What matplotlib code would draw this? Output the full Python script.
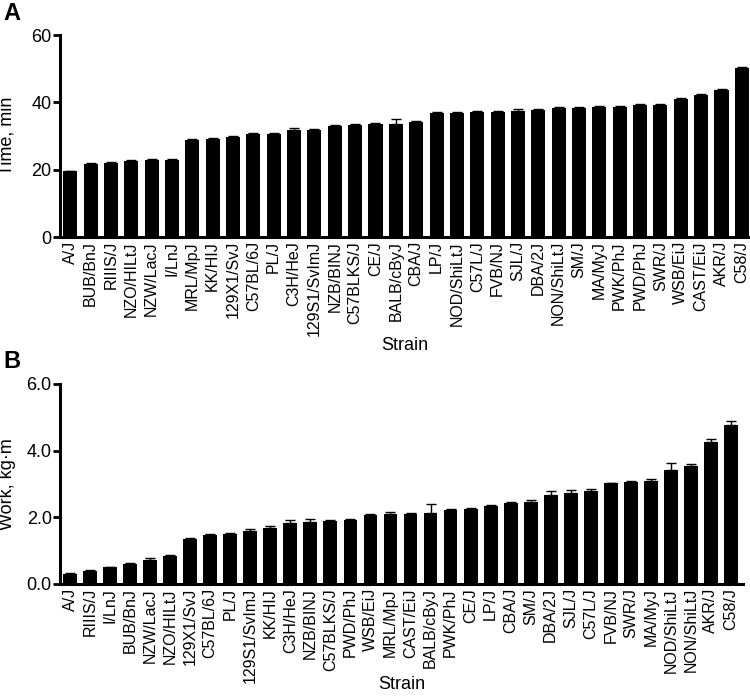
import matplotlib
matplotlib.use("Agg")
import matplotlib.pyplot as plt
import numpy as np

plt.rcParams['font.family'] = ['Liberation Sans', 'DejaVu Sans']

# Panel A: time to exhaustion
strains_a = ["A/J", "BUB/BnJ", "RIIIS/J", "NZO/HILtJ", "NZW/LacJ", "I/LnJ", "MRL/MpJ",
             "KK/HIJ", "129X1/SvJ", "C57BL/6J", "PL/J", "C3H/HeJ", "129S1/SvImJ",
             "NZB/BINJ", "C57BLKS/J", "CE/J", "BALB/cByJ", "CBA/J", "LP/J", "NOD/ShiLtJ",
             "C57L/J", "FVB/NJ", "SJL/J", "DBA/2J", "NON/ShiLtJ", "SM/J", "MA/MyJ",
             "PWK/PhJ", "PWD/PhJ", "SWR/J", "WSB/EiJ", "CAST/EiJ", "AKR/J", "C58/J"]
time_min = [19.5, 21.6, 22.0, 22.7, 22.9, 22.9, 28.9, 29.1, 29.7, 30.5, 30.6, 31.7, 31.9,
            33.0, 33.2, 33.5, 33.5, 34.2, 36.7, 36.8, 37.0, 37.2, 37.5, 37.7, 38.3, 38.4,
            38.5, 38.5, 39.2, 39.3, 41.1, 42.1, 43.6, 50.2]
time_err = [0.2, 0.3, 0.2, 0.2, 0.2, 0.2, 0.3, 0.3, 0.3, 0.3, 0.3, 0.7, 0.3,
            0.3, 0.3, 0.3, 1.6, 0.3, 0.3, 0.3, 0.3, 0.3, 0.6, 0.4, 0.3, 0.3,
            0.3, 0.3, 0.3, 0.3, 0.3, 0.3, 0.4, 0.3]

# Panel B: work
strains_b = ["A/J", "RIIIS/J", "I/LnJ", "BUB/BnJ", "NZW/LacJ", "NZO/HILtJ", "129X1/SvJ",
             "C57BL/6J", "PL/J", "129S1/SvImJ", "KK/HIJ", "C3H/HeJ", "NZB/BINJ",
             "C57BLKS/J", "PWD/PhJ", "WSB/EiJ", "MRL/MpJ", "CAST/EiJ", "BALB/cByJ",
             "PWK/PhJ", "CE/J", "LP/J", "CBA/J", "SM/J", "DBA/2J", "SJL/J", "C57L/J",
             "FVB/NJ", "SWR/J", "MA/MyJ", "NOD/ShiLtJ", "NON/ShiLtJ", "AKR/J", "C58/J"]
work_kgm = [0.30, 0.40, 0.50, 0.60, 0.73, 0.85, 1.35, 1.47, 1.49, 1.59, 1.69, 1.82, 1.86,
            1.90, 1.93, 2.08, 2.10, 2.11, 2.13, 2.23, 2.25, 2.34, 2.43, 2.45, 2.66, 2.73,
            2.80, 3.02, 3.05, 3.09, 3.43, 3.54, 4.27, 4.77]
work_err = [0.02, 0.02, 0.02, 0.02, 0.04, 0.02, 0.02, 0.03, 0.04, 0.05, 0.06, 0.10, 0.08,
            0.02, 0.02, 0.02, 0.05, 0.02, 0.28, 0.02, 0.03, 0.03, 0.03, 0.08, 0.12, 0.10,
            0.06, 0.02, 0.03, 0.06, 0.19, 0.05, 0.07, 0.12]

W, H = 750, 698
fig = plt.figure(figsize=(W / 100, H / 100), dpi=100)


def panel(rect, names, vals, errs, ylim, yticks, yfmt, ylabel, letter, xmax, xlab_y, letter_y):
    ax = fig.add_axes(rect)
    x = np.arange(len(names))
    ax.bar(x, vals, width=0.69, color='black', edgecolor='none', zorder=2)
    ax.errorbar(x, vals, yerr=[np.zeros(len(errs)), errs], fmt='none', ecolor='black',
                elinewidth=1, capsize=3.5, capthick=1, zorder=1)
    ax.set_xlim(-0.5, xmax)
    ax.set_ylim(*ylim)
    ax.set_yticks(yticks)
    ax.set_yticklabels([yfmt.format(v) for v in yticks], fontsize=13)
    ax.set_xticks(x)
    ax.set_xticklabels(names, rotation=90, fontsize=11.5, ha='center', va='top')
    ax.tick_params(axis='x', length=0, pad=3)
    ax.tick_params(axis='y', length=5, width=2, pad=1)
    for s in ['top', 'right']:
        ax.spines[s].set_visible(False)
    for s in ['left', 'bottom']:
        ax.spines[s].set_linewidth(2.2)
    ax.set_ylabel(ylabel, fontsize=13)
    ax.yaxis.set_label_coords(-44 / (rect[2] * W), 0.5)
    ax.set_xlabel("Strain", fontsize=13)
    ax.xaxis.set_label_coords(0.5, xlab_y)
    fig.text(3 / W, 1 - letter_y / H, letter, fontsize=17, fontweight='bold',
             va='top', ha='left')
    return ax


panel([60 / W, 1 - 237 / H, 690 / W, 202 / H], strains_a, time_min, time_err,
      (0, 60), [0, 20, 40, 60], "{:.0f}", "Time, min", "A", 33.4, -0.495, 2)
panel([60 / W, 1 - 584 / H, 683 / W, 200 / H], strains_b, work_kgm, work_err,
      (0, 6), [0, 2, 4, 6], "{:.1f}", "Work, kg\u00b7m", "B", 33.6, -0.46, 350)

fig.savefig("out.png", dpi=100)
